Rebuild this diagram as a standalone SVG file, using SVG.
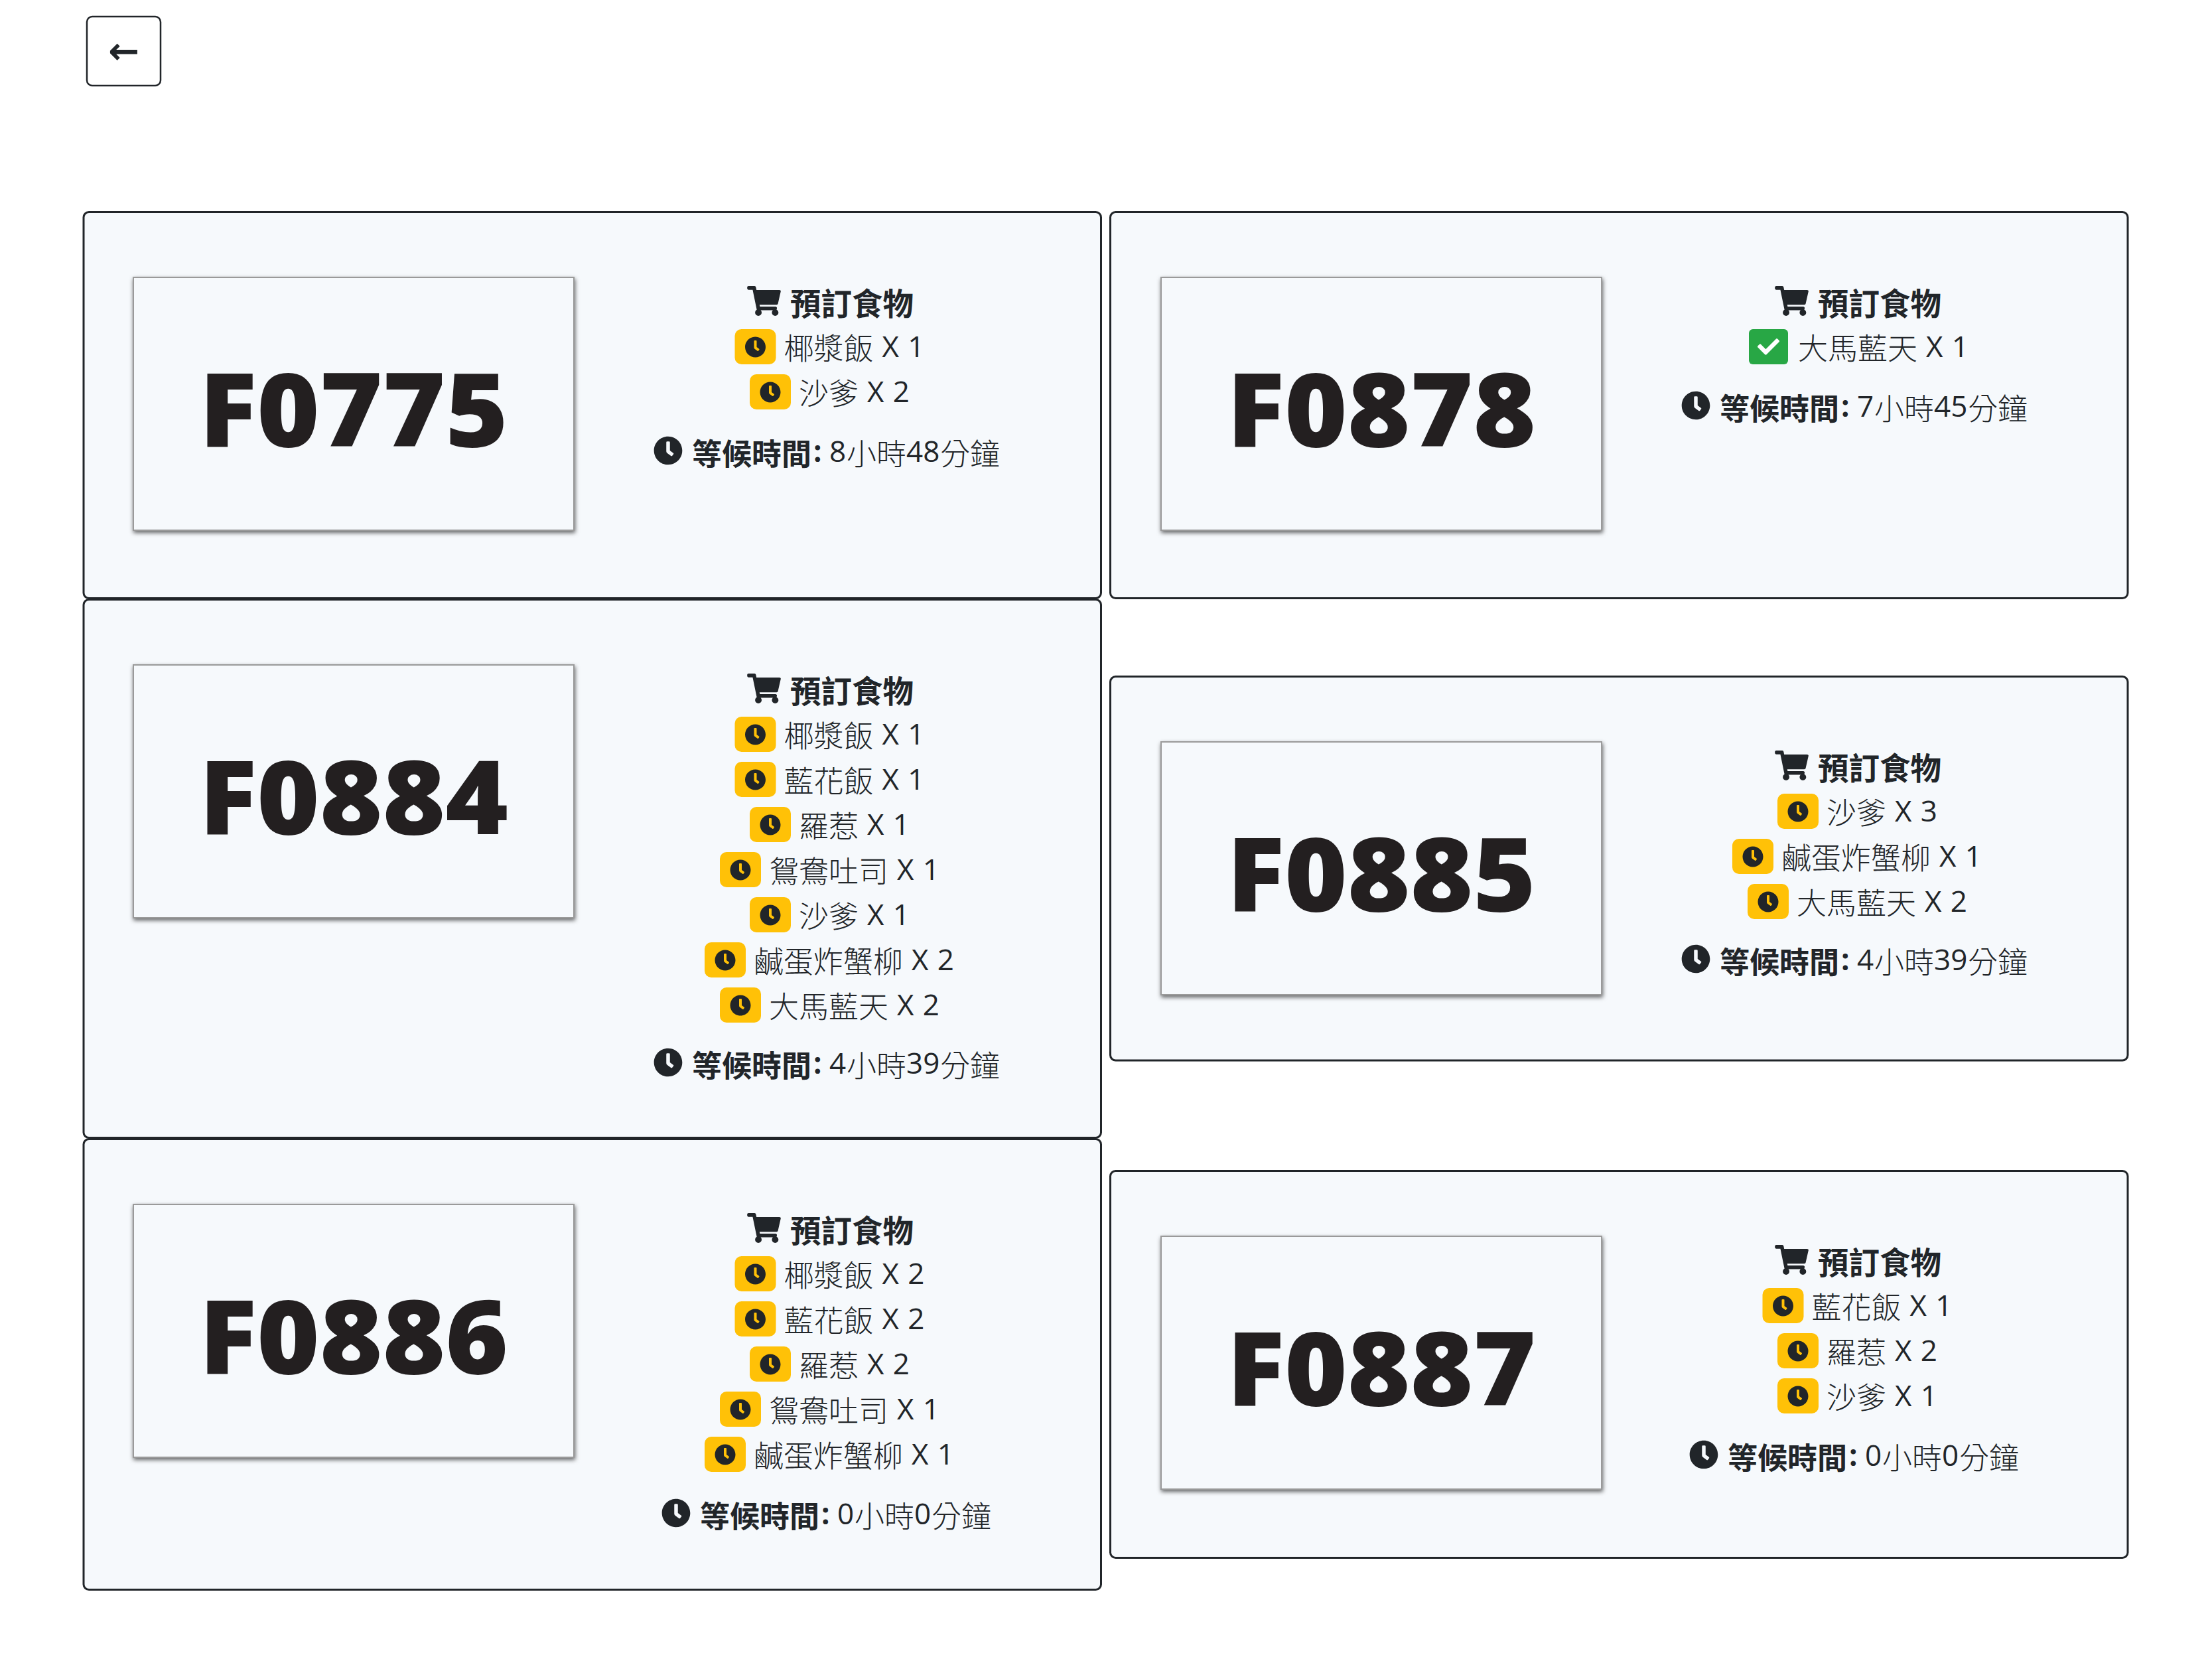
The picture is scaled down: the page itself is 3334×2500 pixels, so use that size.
<svg xmlns="http://www.w3.org/2000/svg" width="3334" height="2500" viewBox="0 0 3334 2500">
<style>
text{fill:#212529;font-size:44px;word-spacing:2px;font-family:"Open Sans","Noto Sans CJK TC",sans-serif}
.c{font-size:45px;font-weight:300;font-family:"Noto Sans CJK TC","Noto Sans CJK SC",sans-serif}
.h{font-size:46.5px;font-weight:700}
.b{font-weight:700}
.c.b{font-weight:700}
.plate-no{font-size:154px;font-weight:800;text-anchor:middle;fill:#231f20}
.card{fill:#f6f9fc;stroke:#212529;stroke-width:3}
.plate{fill:#f6f9fc;stroke:#9a9a9a;stroke-width:2;filter:url(#sh)}
.wait{fill:#ffc107}.done{fill:#28a745}
</style>
<defs>
<filter id="sh" x="-5%" y="-5%" width="110%" height="110%"><feDropShadow dx="1" dy="3" stdDeviation="3" flood-color="#000" flood-opacity=".6"/></filter>
<symbol id="clock" viewBox="0 0 512 512"><path fill="#212529" d="M256,8C119,8,8,119,8,256S119,504,256,504,504,393,504,256,393,8,256,8Zm92.49,313h0l-20,25a16,16,0,0,1-22.49,2.5h0l-67-49.72a40,40,0,0,1-15-31.23V112a16,16,0,0,1,16-16h32a16,16,0,0,1,16,16V256l58,42.5A16,16,0,0,1,348.49,321Z"/></symbol>
<symbol id="cart" viewBox="0 0 576 512"><path fill="#212529" d="M528.12 301.319l47.273-208C578.806 78.301 567.391 67 551.99 67H159.208l-9.166-44.81C147.758 10.021 137.93 0 126.529 0H24C10.745 0 0 10.745 0 24v16c0 13.255 10.745 24 24 24h69.883l70.248 343.435C147.325 417.1 136 435.222 136 456c0 30.928 25.072 56 56 56s56-25.072 56-56c0-15.674-6.447-29.835-16.824-40h209.647C430.447 426.165 424 440.326 424 456c0 30.928 25.072 56 56 56s56-25.072 56-56c0-22.172-12.888-41.332-31.579-50.405l5.517-24.276c3.413-15.018-8.002-29.319-23.403-29.319H218.117l-6.545-32h293.145c11.206 0 20.92-7.754 23.403-18.681z"/></symbol>
<symbol id="check" viewBox="0 0 512 512"><path fill="#fff" d="M173.898 439.404l-166.4-166.4c-9.997-9.997-9.997-26.206 0-36.204l36.203-36.204c9.997-9.998 26.207-9.998 36.204 0L192 312.69 432.095 72.596c9.997-9.997 26.207-9.997 36.204 0l36.203 36.204c9.997 9.997 9.997 26.206 0 36.204l-294.4 294.401c-9.998 9.997-26.207 9.997-36.204-.001z"/></symbol>
<g id="pending"><rect class="wait" width="62" height="53" rx="10"/><use href="#clock" x="15" y="11" width="32" height="32"/></g>
<g id="head"><use href="#cart" x="1126" y="111" width="51" height="45"/><text class="c h" x="1191" y="155">預訂食物</text></g>
</defs>
<rect width="3334" height="2500" fill="#fff"/>
<g id="back"><rect x="131" y="25" width="111" height="104" rx="8" fill="#fff" stroke="#212529" stroke-width="2.5"/><text x="186.500" y="96" text-anchor="middle" style="font-family:'DejaVu Sans',sans-serif;font-weight:700;font-size:56px">←</text></g>

<g id="card-F0775" transform="translate(0,320)">
<rect class="card" x="126" y="-.5" width="1533.5" height="582" rx="8"/>
<rect class="plate" x="201" y="98" width="664" height="381"/><text class="plate-no" transform="translate(533 353) scale(1.05 1)">F0775</text>
<use href="#head"/>
<g transform="translate(1107.5,176)"><use href="#pending"/><text><tspan class="c" x="74" y="46">椰漿飯</tspan><tspan x="222" y="42">X 1</tspan></text></g>
<g transform="translate(1130,244)"><use href="#pending"/><text><tspan class="c" x="74" y="46">沙爹</tspan><tspan x="177" y="42">X 2</tspan></text></g>
<g transform="translate(986,312)"><use href="#clock" x="-1" y="25" width="44" height="44"/><text><tspan class="c b" x="57" y="69">等候時間</tspan><tspan class="b" x="240" y="64">:</tspan><tspan x="264" y="64">8</tspan><tspan class="c" x="290" y="69">小時</tspan><tspan x="380" y="64">48</tspan><tspan class="c" x="431" y="69">分鐘</tspan></text></g>
</g>

<g id="card-F0878" transform="translate(1549,320)">
<rect class="card" x="124.5" y="-.5" width="1533.5" height="582" rx="8"/>
<rect class="plate" x="201" y="98" width="664" height="381"/><text class="plate-no" transform="translate(533 353) scale(1.05 1)">F0878</text>
<use href="#head"/>
<g transform="translate(1087,176)"><rect class="done" width="59" height="53" rx="6"/><use href="#check" x="13" y="10" width="33" height="33"/><text><tspan class="c" x="74" y="46">大馬藍天</tspan><tspan x="267" y="42">X 1</tspan></text></g>
<g transform="translate(986,244)"><use href="#clock" x="-1" y="25" width="44" height="44"/><text><tspan class="c b" x="57" y="69">等候時間</tspan><tspan class="b" x="240" y="64">:</tspan><tspan x="264" y="64">7</tspan><tspan class="c" x="290" y="69">小時</tspan><tspan x="380" y="64">45</tspan><tspan class="c" x="431" y="69">分鐘</tspan></text></g>
</g>

<g id="card-F0884" transform="translate(0,904)">
<rect class="card" x="126" y="-.5" width="1533.5" height="811" rx="8"/>
<rect class="plate" x="201" y="98" width="664" height="381"/><text class="plate-no" transform="translate(533 353) scale(1.05 1)">F0884</text>
<use href="#head"/>
<g transform="translate(1107.5,176)"><use href="#pending"/><text><tspan class="c" x="74" y="46">椰漿飯</tspan><tspan x="222" y="42">X 1</tspan></text></g>
<g transform="translate(1107.5,244)"><use href="#pending"/><text><tspan class="c" x="74" y="46">藍花飯</tspan><tspan x="222" y="42">X 1</tspan></text></g>
<g transform="translate(1130,312)"><use href="#pending"/><text><tspan class="c" x="74" y="46">羅惹</tspan><tspan x="177" y="42">X 1</tspan></text></g>
<g transform="translate(1085,380)"><use href="#pending"/><text><tspan class="c" x="74" y="46">鴛鴦吐司</tspan><tspan x="267" y="42">X 1</tspan></text></g>
<g transform="translate(1130,448)"><use href="#pending"/><text><tspan class="c" x="74" y="46">沙爹</tspan><tspan x="177" y="42">X 1</tspan></text></g>
<g transform="translate(1062,516)"><use href="#pending"/><text><tspan class="c" x="74" y="46">鹹蛋炸蟹柳</tspan><tspan x="312" y="42">X 2</tspan></text></g>
<g transform="translate(1085,584)"><use href="#pending"/><text><tspan class="c" x="74" y="46">大馬藍天</tspan><tspan x="267" y="42">X 2</tspan></text></g>
<g transform="translate(986,650)"><use href="#clock" x="-1" y="25" width="44" height="44"/><text><tspan class="c b" x="57" y="69">等候時間</tspan><tspan class="b" x="240" y="64">:</tspan><tspan x="264" y="64">4</tspan><tspan class="c" x="290" y="69">小時</tspan><tspan x="380" y="64">39</tspan><tspan class="c" x="431" y="69">分鐘</tspan></text></g>
</g>

<g id="card-F0885" transform="translate(1549,1020)">
<rect class="card" x="124.5" y="-.5" width="1533.5" height="578.5" rx="8"/>
<rect class="plate" x="201" y="98" width="664" height="381"/><text class="plate-no" transform="translate(533 353) scale(1.05 1)">F0885</text>
<use href="#head"/>
<g transform="translate(1130,176)"><use href="#pending"/><text><tspan class="c" x="74" y="46">沙爹</tspan><tspan x="177" y="42">X 3</tspan></text></g>
<g transform="translate(1062,244)"><use href="#pending"/><text><tspan class="c" x="74" y="46">鹹蛋炸蟹柳</tspan><tspan x="312" y="42">X 1</tspan></text></g>
<g transform="translate(1085,312)"><use href="#pending"/><text><tspan class="c" x="74" y="46">大馬藍天</tspan><tspan x="267" y="42">X 2</tspan></text></g>
<g transform="translate(986,378)"><use href="#clock" x="-1" y="25" width="44" height="44"/><text><tspan class="c b" x="57" y="69">等候時間</tspan><tspan class="b" x="240" y="64">:</tspan><tspan x="264" y="64">4</tspan><tspan class="c" x="290" y="69">小時</tspan><tspan x="380" y="64">39</tspan><tspan class="c" x="431" y="69">分鐘</tspan></text></g>
</g>

<g id="card-F0886" transform="translate(0,1717)">
<rect class="card" x="126" y="-.5" width="1533.5" height="679" rx="8"/>
<rect class="plate" x="201" y="98" width="664" height="381"/><text class="plate-no" transform="translate(533 353) scale(1.05 1)">F0886</text>
<use href="#head"/>
<g transform="translate(1107.5,176)"><use href="#pending"/><text><tspan class="c" x="74" y="46">椰漿飯</tspan><tspan x="222" y="42">X 2</tspan></text></g>
<g transform="translate(1107.5,244)"><use href="#pending"/><text><tspan class="c" x="74" y="46">藍花飯</tspan><tspan x="222" y="42">X 2</tspan></text></g>
<g transform="translate(1130,312)"><use href="#pending"/><text><tspan class="c" x="74" y="46">羅惹</tspan><tspan x="177" y="42">X 2</tspan></text></g>
<g transform="translate(1085,380)"><use href="#pending"/><text><tspan class="c" x="74" y="46">鴛鴦吐司</tspan><tspan x="267" y="42">X 1</tspan></text></g>
<g transform="translate(1062,448)"><use href="#pending"/><text><tspan class="c" x="74" y="46">鹹蛋炸蟹柳</tspan><tspan x="312" y="42">X 1</tspan></text></g>
<g transform="translate(998,516)"><use href="#clock" x="-1" y="25" width="44" height="44"/><text><tspan class="c b" x="57" y="69">等候時間</tspan><tspan class="b" x="240" y="64">:</tspan><tspan x="264" y="64">0</tspan><tspan class="c" x="290" y="69">小時</tspan><tspan x="380" y="64">0</tspan><tspan class="c" x="406" y="69">分鐘</tspan></text></g>
</g>

<g id="card-F0887" transform="translate(1549,1765)">
<rect class="card" x="124.5" y="-.5" width="1533.5" height="583" rx="8"/>
<rect class="plate" x="201" y="98" width="664" height="381"/><text class="plate-no" transform="translate(533 353) scale(1.05 1)">F0887</text>
<use href="#head"/>
<g transform="translate(1107.5,176)"><use href="#pending"/><text><tspan class="c" x="74" y="46">藍花飯</tspan><tspan x="222" y="42">X 1</tspan></text></g>
<g transform="translate(1130,244)"><use href="#pending"/><text><tspan class="c" x="74" y="46">羅惹</tspan><tspan x="177" y="42">X 2</tspan></text></g>
<g transform="translate(1130,312)"><use href="#pending"/><text><tspan class="c" x="74" y="46">沙爹</tspan><tspan x="177" y="42">X 1</tspan></text></g>
<g transform="translate(998,380)"><use href="#clock" x="-1" y="25" width="44" height="44"/><text><tspan class="c b" x="57" y="69">等候時間</tspan><tspan class="b" x="240" y="64">:</tspan><tspan x="264" y="64">0</tspan><tspan class="c" x="290" y="69">小時</tspan><tspan x="380" y="64">0</tspan><tspan class="c" x="406" y="69">分鐘</tspan></text></g>
</g>
</svg>
